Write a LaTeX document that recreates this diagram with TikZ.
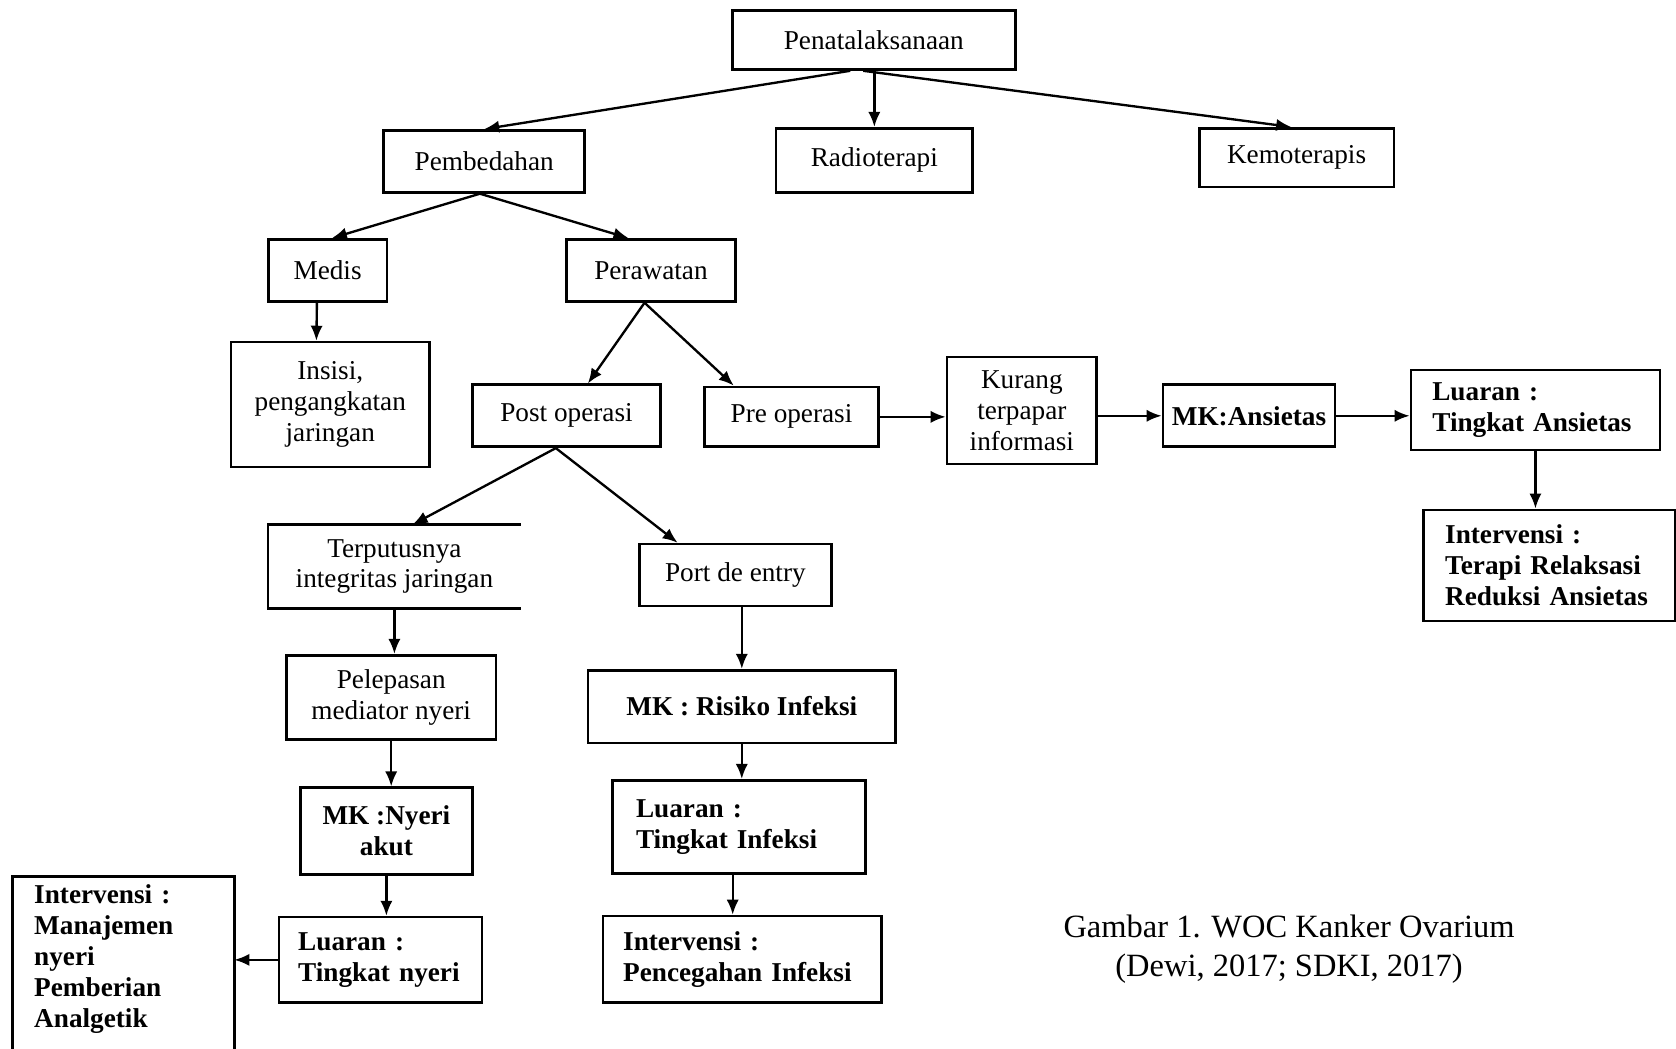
\documentclass[tikz,border=0pt]{standalone}
\usepackage{fontspec}
\setmainfont{Liberation Serif}
\usetikzlibrary{arrows.meta,calc}
\tikzset{>={Latex[length=8pt,width=6.5pt]}}
\tikzset{
    box/.style={rectangle,draw,line width=1.4pt,inner sep=0pt,align=center,font=\fontsize{14.5}{16.5}\selectfont},
    mkbox/.style={box,font=\fontsize{14.5}{16.5}\selectfont\bfseries},
    outbox/.style={box,align=left,inner xsep=0.4cm,font=\fontsize{14.5}{16.5}\selectfont\bfseries},
    openbox/.style={box,draw=none},
    frame/.style={line width=1.4pt},
    link/.style={->,line width=1.25pt},
    caption/.style={align=center,font=\fontsize{17.3}{21}\selectfont},
}

\begin{document}
\begin{tikzpicture}[x=0.02cm,y=-0.02cm]
        \useasboundingbox (0,0) rectangle (1568,981);

        \node[box, minimum width=5.3cm, minimum height=1.1cm] (pen) at (817.5,37.5) {Penatalaksanaan};
        \node[box, minimum width=3.76cm, minimum height=1.16cm] (pem) at (453,151) {Pembedahan};
        \node[box, minimum width=3.68cm, minimum height=1.2cm] (rad) at (818,150) {Radioterapi};
        \node[box, minimum width=3.64cm, minimum height=1.1cm] (kem) at (1213,147.5) {Kemoterapis};
        \node[box, minimum width=2.22cm, minimum height=1.16cm] (med) at (306.5,253) {Medis};
        \node[box, minimum width=3.16cm, minimum height=1.16cm] (per) at (609,253) {Perawatan};
        \node[box, minimum width=3.72cm, minimum height=2.34cm] (ins) at (309,378.5) {Insisi,\\pengangkatan\\jaringan};
        \node[box, minimum width=3.52cm, minimum height=1.16cm] (pos) at (530,389) {Post operasi};
        \node[box, minimum width=3.26cm, minimum height=1.12cm] (pre) at (740.5,390) {Pre operasi};
        \node[box, minimum width=2.8cm, minimum height=2cm] (kur) at (956,384) {Kurang\\terpapar\\informasi};
        \node[mkbox, minimum width=3.22cm, minimum height=1.16cm] (ans) at (1168.5,389) {MK:Ansietas};
        \node[outbox, text width=3.86cm, minimum height=1.5cm] (lan) at (1436.5,383.5) {Luaran :\\Tingkat Ansietas};
        \node[outbox, text width=3.9cm, minimum height=2.08cm] (ian) at (1449.5,529) {Intervensi :\\Terapi Relaksasi\\Reduksi Ansietas};

        \node[openbox, minimum width=4.68cm, minimum height=1.52cm] (ter) at (369,530) {Terputusnya\\integritas jaringan};
        \node[box, minimum width=3.6cm, minimum height=1.16cm] (port) at (688,538) {Port de entry};
        \node[box, minimum width=3.92cm, minimum height=1.58cm] (pel) at (366,652.5) {Pelepasan\\mediator nyeri};
        \node[mkbox, minimum width=5.76cm, minimum height=1.36cm] (rsk) at (694,661) {MK : Risiko Infeksi};
        \node[mkbox, minimum width=3.22cm, minimum height=1.62cm] (nye) at (361.5,777.5) {MK :Nyeri\\akut};
        \node[outbox, inner xsep=0.44cm, text width=3.86cm, minimum height=1.74cm] (lin) at (691.5,773.5) {Luaran :\\Tingkat Infeksi};
        \node[outbox, inner xsep=0.36cm, text width=3.08cm, minimum height=1.6cm] (lny) at (356,898) {Luaran :\\Tingkat nyeri};
        \node[outbox, inner xsep=0.38cm, text width=4.46cm, minimum height=1.62cm] (iin) at (694.5,897.5) {Intervensi :\\Pencegahan Infeksi};
        \node[outbox, draw=none, inner xsep=0.38cm, text width=3.34cm] (inn) at (115.5,897) {Intervensi :\\Manajemen\\nyeri\\Pemberian\\Analgetik};

        \node[caption] (cap) at (1206,888) {Gambar 1. WOC Kanker Ovarium\\(Dewi, 2017; SDKI, 2017)};

        \coordinate (inntop) at (0,820);
        \coordinate (innbot) at (0,995);
        \draw[frame] (ter.north east) -- (ter.north west) -- (ter.south west) -- (ter.south east);
        \draw[frame] (inn.west |- innbot) -- (inn.west |- inntop) -- (inn.east |- inntop) -- (inn.east |- innbot);

        \draw[link] ($(pen.south)+(-22,0)$) -- (pem.north);
        \draw[link] (rad.north |- pen.south) -- (rad.north);
        \draw[link] ($(pen.south)+(-10,0)$) -- ($(kem.north)+(-5,0)$);
        \draw[link] ($(pem.south)+(-4,0)$) -- ($(med.north)+(4,0)$);
        \draw[link] ($(pem.south)+(-4,0)$) -- ($(per.north)+(-21,0)$);
        \draw[link] ($(med.south)+(-10,0)$) -- ($(ins.north)+(-13,0)$);
        \draw[link] ($(per.south)+(-6,0)$) -- ($(pos.north)+(20,0)$);
        \draw[link] ($(per.south)+(-6,0)$) -- ($(pre.north)+(-54,0)$);
        \draw[link] (pre.east) -- (pre.east -| kur.west);
        \draw[link] (kur.east |- ans.west) -- (ans.west);
        \draw[link] (ans.east) -- (ans.east -| lan.west);
        \draw[link] (lan.south) -- (lan.south |- ian.north);
        \draw[link] ($(pos.south)+(-10,0)$) -- ($(ter.north)+(17,0)$);
        \draw[link] ($(pos.south)+(-10,0)$) -- ($(port.north)+(-54,0)$);
        \draw[link] (ter.south) -- (ter.south |- pel.north);
        \draw[link] (pel.south) -- (pel.south |- nye.north);
        \draw[link] (nye.south) -- (nye.south |- lny.north);
        \draw[link] (lny.west) -- (lny.west -| inn.east);
        \draw[link] (rsk.north |- port.south) -- (rsk.north);
        \draw[link] (rsk.south) -- (rsk.south |- lin.north);
        \draw[link] ($(lin.south)+(-6,0)$) -- ($(iin.north)+(-9,0)$);
\end{tikzpicture}
\end{document}
